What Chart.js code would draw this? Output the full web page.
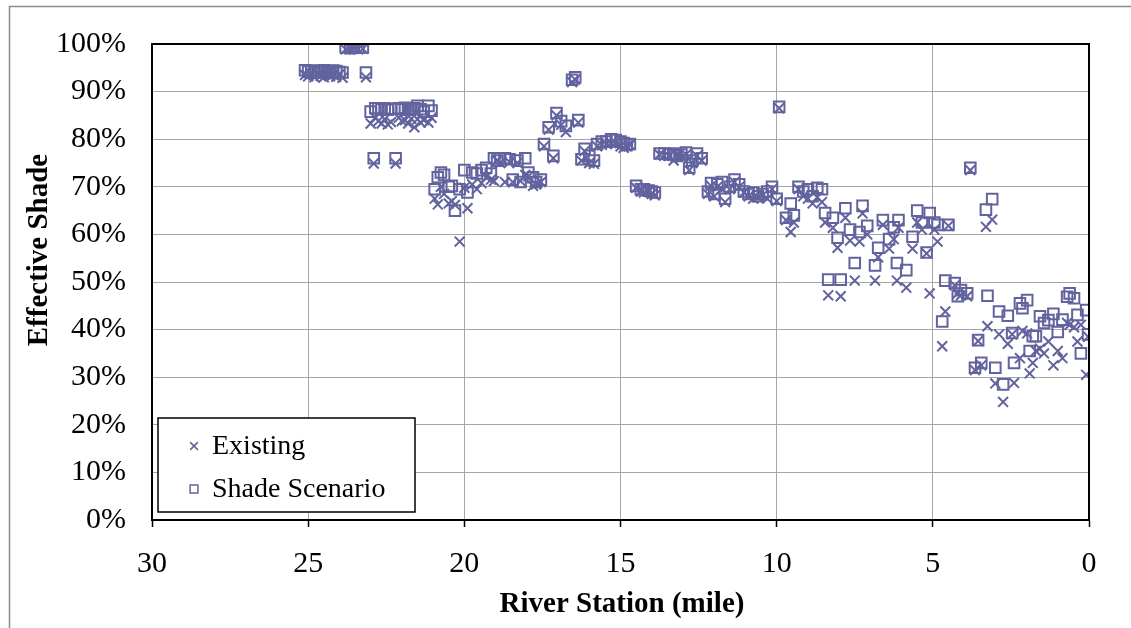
<!DOCTYPE html>
<html>
<head>
<meta charset="utf-8">
<title>Effective Shade</title>
<script src="https://cdn.jsdelivr.net/npm/chart.js@4.4.1/dist/chart.umd.min.js"></script>
<style>
  html, body { margin: 0; padding: 0; background: #fff; }
  #wrap { position: relative; width: 1131px; height: 628px; }
</style>
</head>
<body>
<div id="wrap"><canvas id="shadeChart" width="1131" height="628"></canvas></div>
<script>
// River station (mile) of each model node, upstream to downstream
const stations = [
    25.10, 25.00, 24.90, 24.80, 24.70, 24.60, 24.50, 24.40, 24.30, 24.20, 24.10, 24.00, 23.90,
    23.80, 23.65, 23.55, 23.40, 23.25, 23.15,
    23.00, 22.90, 22.85, 22.75, 22.65, 22.55, 22.45, 22.35, 22.20, 22.10, 22.00, 21.90, 21.80,
    21.70, 21.60, 21.50, 21.40, 21.30, 21.15, 21.05,
    20.95, 20.85, 20.75, 20.65, 20.50, 20.40, 20.30, 20.15, 20.00, 19.90, 19.75, 19.60, 19.45,
    19.30, 19.15, 19.05, 18.95, 18.85, 18.70, 18.55, 18.45, 18.30, 18.20, 18.05, 17.95, 17.80,
    17.70, 17.55, 17.45, 17.30, 17.15, 17.05, 16.90, 16.75, 16.55, 16.45, 16.35, 16.25, 16.15,
    16.00, 15.85, 15.75, 15.60, 15.45, 15.30, 15.15, 15.00, 14.90, 14.80, 14.70,
    14.50, 14.35, 14.25, 14.10, 14.00, 13.90,
    13.75, 13.60, 13.45, 13.30, 13.20, 13.05, 12.90, 12.80, 12.70, 12.55, 12.40,
    12.20, 12.10, 12.00, 11.90, 11.75, 11.65, 11.50, 11.35, 11.20, 11.05, 10.90, 10.75, 10.60,
    10.45, 10.30, 10.15, 10.00, 9.92,
    9.70, 9.55, 9.45, 9.30, 9.15, 9.00, 8.85, 8.70, 8.55, 8.45, 8.35, 8.20, 8.05, 7.95, 7.80,
    7.65, 7.50, 7.35, 7.25, 7.10, 6.85, 6.75, 6.60, 6.40, 6.25, 6.15, 6.10, 5.85, 5.65, 5.50,
    5.35, 5.20, 5.10, 4.95, 4.85, 4.70, 4.60, 4.50, 4.30, 4.20, 4.10, 3.90, 3.80, 3.65, 3.55,
    3.45, 3.30, 3.25, 3.10, 3.00, 2.88, 2.75, 2.60, 2.46, 2.40, 2.21, 2.13, 1.98, 1.90, 1.80,
    1.70, 1.57, 1.44, 1.30, 1.14, 1.00, 0.85, 0.70, 0.62, 0.48, 0.37, 0.26, 0.09, 0.03
];

// Effective shade, current riparian vegetation (%)
const existing = [
    93.5, 93.2, 93.8, 93.0, 93.6, 93.3, 93.0, 93.7, 93.2, 93.5, 93.1, 93.6, 92.9,
    98.9, 99.0, 99.1, 98.9, 99.0, 93.0,
    83.3, 74.9, 84.5, 83.8, 83.3, 84.2, 83.1, 83.6, 74.9, 84.5, 83.8, 84.0, 83.3,
    84.3, 82.5, 84.2, 83.5, 84.0, 83.5, 84.5,
    67.5, 66.3, 70.0, 68.5, 66.5, 67.0, 66.2, 58.5, 69.8, 65.5, 70.5, 69.5, 70.8,
    72.0, 71.5, 71.2, 75.5, 75.0, 71.0, 75.2, 71.0, 75.0, 71.2, 72.5, 72.2, 70.2,
    70.5, 71.0, 78.5, 82.0, 76.0, 85.0, 83.0, 81.5, 92.0, 92.5, 83.5, 75.5, 77.5,
    75.0, 74.8, 78.5, 78.8, 79.0, 79.2, 79.0, 78.5, 78.2, 78.5, 78.8,
    69.8, 69.0, 68.8, 69.0, 68.5, 68.2,
    76.8, 76.5, 76.5, 75.5, 76.5, 76.2, 76.8, 73.5, 75.0, 76.5, 75.5,
    68.5, 70.2, 68.0, 70.0, 69.5, 66.8, 69.5, 71.0, 70.0, 68.8, 68.0, 67.5, 67.8,
    68.2, 67.5, 69.5, 67.0, 86.5,
    63.0, 60.5, 62.5, 69.5, 68.0, 67.5, 66.5, 67.8, 66.8, 62.5, 47.2, 61.4, 57.2, 47.0, 63.5,
    58.7, 50.3, 58.5, 64.4, 60.0, 50.3, 55.2, 62.0, 57.0, 59.0, 50.3, 61.4, 48.8, 57.0, 62.5,
    61.0, 56.0, 47.6, 61.0, 58.5, 36.5, 43.8, 61.8, 49.3, 47.6, 47.2, 47.0, 73.5, 31.5, 37.6,
    32.5, 61.6, 40.7, 63.1, 28.7, 39.0, 24.8, 37.0, 39.0, 28.8, 34.0, 39.7, 39.2, 30.8, 33.0,
    35.5, 36.0, 35.0, 37.5, 32.5, 35.5, 34.0, 41.4, 41.0, 40.5, 37.5, 41.0, 30.5, 38.5
];

// Effective shade, shade scenario (%)
const shadeScenario = [
    94.5, 94.2, 94.4, 94.0, 94.3, 94.1, 94.5, 94.2, 94.0, 94.4, 94.3, 94.1, 94.0,
    99.3, 99.1, 99.4, 99.2, 99.3, 94.0,
    85.8, 76.0, 86.5, 86.5, 86.3, 86.5, 86.2, 86.4, 76.0, 86.5, 86.3, 86.6, 86.2,
    86.4, 86.5, 87.0, 86.3, 85.8, 87.0, 86.0,
    69.5, 72.0, 73.0, 72.5, 70.0, 70.2, 65.0, 69.5, 73.5, 68.8, 73.0, 72.8, 73.5,
    74.0, 72.8, 76.0, 75.5, 76.0, 76.0, 75.8, 71.5, 75.5, 71.0, 76.0, 73.0, 72.0,
    71.0, 71.5, 79.0, 82.5, 76.5, 85.5, 83.8, 82.8, 92.5, 93.0, 84.0, 75.8, 78.0,
    76.5, 75.5, 79.0, 79.5, 79.5, 80.0, 79.8, 79.5, 79.2, 78.8, 79.0,
    70.2, 69.5, 69.5, 69.2, 69.0, 68.8,
    77.0, 77.0, 76.8, 77.0, 76.5, 76.8, 77.2, 74.0, 75.5, 77.0, 76.0,
    69.0, 70.8, 68.5, 70.5, 71.0, 67.5, 70.0, 71.5, 70.5, 69.0, 68.5, 68.8, 68.0,
    68.5, 69.0, 70.0, 67.5, 86.8,
    63.5, 66.5, 64.0, 70.0, 69.0, 69.5, 68.0, 69.8, 69.5, 64.5, 50.5, 63.5, 59.3, 50.5, 65.5,
    61.0, 54.0, 60.5, 66.0, 61.8, 53.5, 57.2, 63.0, 59.0, 61.5, 54.0, 63.0, 52.5, 59.5, 65.0,
    62.5, 56.2, 64.5, 62.5, 62.0, 41.7, 50.3, 62.0, 49.8, 47.0, 48.3, 47.6, 74.0, 32.0, 37.8,
    33.0, 65.2, 47.1, 67.4, 32.0, 43.8, 28.5, 42.9, 39.3, 33.0, 45.5, 44.5, 46.2, 35.5, 38.6,
    38.6, 42.8, 41.4, 42.0, 43.3, 39.5, 42.1, 46.9, 47.6, 46.6, 43.1, 35.0, 44.1, 39.0
];

const xTicks = [30, 25, 20, 15, 10, 5, 0];
const yTicks = [0, 10, 20, 30, 40, 50, 60, 70, 80, 90, 100];

const markerColor = "#62639e";
const serif = '"Liberation Serif", "Times New Roman", serif';

const toPoints = (vals) => stations.map((s, i) => ({ x: s, y: vals[i] }));

// Axis titles, the legend box and the frame round the plot
const decorations = {
    id: "decorations",
    afterDraw(chart) {
        const { ctx, chartArea: a } = chart;
        ctx.save();

        // outer figure frame
        ctx.strokeStyle = "#8c8c8c";
        ctx.lineWidth = 1.5;
        ctx.strokeRect(9.5, 6.5, 1200, 700);

        // plot frame
        ctx.strokeStyle = "#000";
        ctx.lineWidth = 2;
        ctx.strokeRect(a.left, a.top, a.right - a.left, a.bottom - a.top);

        // axis titles
        ctx.fillStyle = "#000";
        ctx.font = "bold 29px " + serif;
        ctx.textAlign = "center";
        ctx.textBaseline = "middle";
        ctx.fillText("River Station (mile)", 622, 605);
        ctx.save();
        ctx.translate(40, 250);
        ctx.rotate(-Math.PI / 2);
        ctx.fillText("Effective Shade", 0, 0);
        ctx.restore();

        // legend
        ctx.fillStyle = "#fff";
        ctx.fillRect(158, 418, 257, 94);
        ctx.strokeStyle = "#000";
        ctx.lineWidth = 1.5;
        ctx.strokeRect(158, 418, 257, 94);

        const items = [
            { label: "Existing", style: "crossRot", y: 446 },
            { label: "Shade Scenario", style: "rect", y: 489 },
        ];
        ctx.font = "28px " + serif;
        ctx.textAlign = "left";
        items.forEach((it) => {
            ctx.strokeStyle = markerColor;
            ctx.fillStyle = "#fff";
            ctx.lineWidth = 1.5;
            Chart.helpers.drawPoint(ctx, { pointStyle: it.style, radius: 5.5, rotation: 0, borderWidth: 1.5 }, 194, it.y);
            ctx.fillStyle = "#000";
            ctx.fillText(it.label, 212, it.y + 1);
        });

        ctx.restore();
    },
};

new Chart(document.getElementById("shadeChart"), {
    type: "scatter",
    data: {
        datasets: [
            {
                label: "Existing",
                data: toPoints(existing),
                pointStyle: "crossRot",
                pointRadius: 7,
                borderColor: markerColor,
                backgroundColor: "transparent",
                pointBorderWidth: 2,
            },
            {
                label: "Shade Scenario",
                data: toPoints(shadeScenario),
                pointStyle: "rect",
                pointRadius: 7.5,
                borderColor: markerColor,
                backgroundColor: "transparent",
                pointBorderWidth: 2,
            },
        ],
    },
    options: {
        responsive: false,
        animation: false,
        layout: { padding: { left: 0, right: 42, top: 42, bottom: 0 } },
        plugins: {
            legend: { display: false },
            tooltip: { enabled: false },
        },
        scales: {
            x: {
                type: "linear",
                reverse: true,
                min: 0,
                max: 30,
                afterBuildTicks: (scale) => {
                    scale.ticks = xTicks.map((v) => ({ value: v }));
                },
                afterFit: (scale) => {
                    scale.height = 108;
                },
                ticks: {
                    color: "#000",
                    font: { family: serif, size: 30 },
                    padding: 19,
                    maxRotation: 0,
                },
                grid: {
                    color: "#a6a6a6",
                    borderDash: [2, 2],
                    tickColor: "#000",
                    tickLength: 7,
                    tickBorderDash: [],
                    tickWidth: 1.5,
                },
                border: { color: "#000", width: 2 },
            },
            y: {
                type: "linear",
                min: 0,
                max: 100,
                afterBuildTicks: (scale) => {
                    scale.ticks = yTicks.map((v) => ({ value: v }));
                },
                afterFit: (scale) => {
                    scale.width = 152;
                },
                ticks: {
                    color: "#000",
                    font: { family: serif, size: 30 },
                    padding: 26,
                    callback: (v) => v + "%",
                },
                grid: {
                    color: "#a6a6a6",
                    borderDash: [2, 2],
                    drawTicks: false,
                },
                border: { color: "#000", width: 2 },
            },
        },
    },
    plugins: [decorations],
});
</script>
</body>
</html>
